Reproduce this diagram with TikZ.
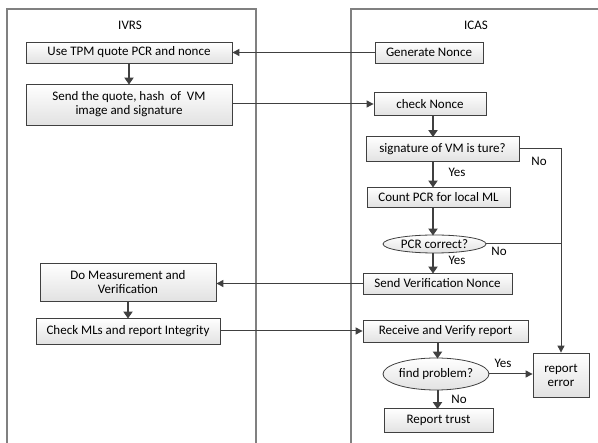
\documentclass[tikz,border=0pt]{standalone}
\usepackage{fontspec}
\setmainfont{Carlito}
\usetikzlibrary{arrows.meta,shapes.geometric}

\definecolor{edgegray}{HTML}{404040}
\definecolor{lanegray}{HTML}{808080}
\definecolor{fillbot}{HTML}{E2E2E2}

\tikzset{
  stepbox/.style={draw=edgegray, line width=0.8pt, top color=white, bottom color=fillbot,
    inner sep=0pt, align=center, font=\fontsize{13}{14}\selectfont},
  decision/.style={ellipse, draw=edgegray, line width=0.8pt, top color=white, bottom color=fillbot,
    inner sep=0pt, align=center, font=\fontsize{13}{14}\selectfont},
  lane/.style={draw=lanegray, line width=1.1pt},
  flow/.style={draw=edgegray, line width=1pt},
  arr/.style={flow, -{Triangle[length=7pt,width=7pt]}},
  darr/.style={draw=edgegray, line width=2pt, -{Triangle[length=7pt,width=9pt]}, shorten >=-1pt},
  lbl/.style={font=\fontsize{13}{14}\selectfont, inner sep=0pt},
}

\begin{document}
\begin{tikzpicture}[x=1pt,y=-1pt]
\useasboundingbox (0,0) rectangle (598,443);
\clip (0,0) rectangle (598,443);
\fill[white] (0,0) rectangle (598,443);

% swim lanes
\draw[lane] (7,460) -- (7,9) -- (256,9) -- (256,460);
\draw[lane] (351,460) -- (351,9) -- (620,9);
\node[lbl] (ivrs) at (130,25) {IVRS};
\node[lbl] (icas) at (476,25) {ICAS};

% IVRS side
\node[stepbox, minimum width=206pt, minimum height=21pt] (quote) at (129,52.5) {Use TPM quote PCR and nonce};
\node[stepbox, minimum width=206pt, minimum height=41pt] (send) at (129,104.5) {Send the quote, hash~ of~ VM\\image and signature};
\node[stepbox, minimum width=176pt, minimum height=38pt] (meas) at (128,282) {Do Measurement and\\Verification};
\node[stepbox, minimum width=184pt, minimum height=26pt] (check) at (128,331) {Check MLs and report Integrity};

% ICAS side
\node[stepbox, minimum width=108pt, minimum height=21pt] (gen) at (429,52.5) {Generate Nonce};
\node[stepbox, minimum width=112pt, minimum height=23pt] (cnonce) at (430,104) {check Nonce};
\node[stepbox, minimum width=153pt, minimum height=25pt] (sig) at (442.5,149) {signature of VM is ture?};
\node[stepbox, minimum width=143pt, minimum height=20pt] (count) at (438.5,197) {Count PCR for local ML};
\node[decision, minimum width=103pt, minimum height=18pt] (pcr) at (434.5,244) {PCR correct?};
\node[stepbox, minimum width=149pt, minimum height=21pt] (svn) at (437.5,283.5) {Send Verification Nonce};
\node[stepbox, minimum width=165pt, minimum height=22pt] (recv) at (445.5,331) {Receive and Verify report};
\node[decision, minimum width=106pt, minimum height=32pt] (find) at (436,374) {find problem?};
\node[stepbox, minimum width=56pt, minimum height=44pt] (err) at (561,375) {report\\error};
\node[stepbox, minimum width=109pt, minimum height=24pt] (trust) at (438.5,420.5) {Report trust};

\coordinate (colA) at (433,0);
\coordinate (colB) at (437.5,0);

% messages between the lanes
\draw[arr] (gen.west) -- (gen.west -| quote.east);
\draw[arr] (send.east |- cnonce.west) -- (cnonce.west);
\draw[arr] (svn.west) -- (svn.west -| meas.east);
\draw[arr] (check.east) -- (check.east -| recv.west);

% IVRS flow
\draw[darr] (quote.south) -- (send.north);
\draw[darr] (meas.south) -- (check.north);

% ICAS flow
\draw[darr] (cnonce.south -| colA) -- (sig.north -| colA);
\draw[darr] (sig.south -| colA) -- (count.north -| colA);
\draw[darr] (count.south -| colA) -- (pcr.north -| colA);
\draw[darr] (pcr.south -| colA) -- (svn.north -| colA);
\draw[darr] (recv.south -| colB) -- (find.north -| colB);
\draw[darr] (find.south -| colB) -- (trust.north -| colB);
\draw[arr] (sig.east) -| (err.north);
\draw[flow] (pcr.east) -- (pcr.east -| err.north);
\draw[arr] (find.east) -- (find.east -| err.west);

% branch labels
\node[lbl] (y1) at (457,172) {Yes};
\node[lbl] (n1) at (539,161) {No};
\node[lbl] (n2) at (499,251) {No};
\node[lbl] (y2) at (457,260) {Yes};
\node[lbl] (y3) at (503,363) {Yes};
\node[lbl] (n3) at (459,399) {No};
\end{tikzpicture}
\end{document}
